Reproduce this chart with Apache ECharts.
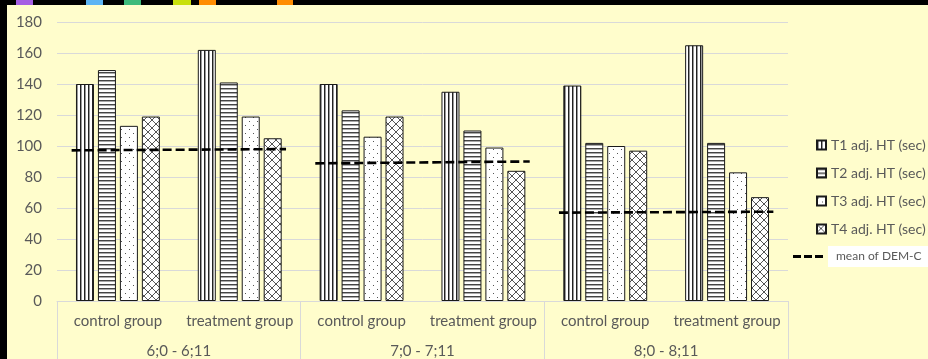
<!DOCTYPE html>
<html>
<head>
<meta charset="utf-8">
<script src="https://cdn.jsdelivr.net/npm/echarts@6/dist/echarts.min.js"></script>
<style>
  html, body { margin: 0; padding: 0; background: #000; }
  #chart { width: 928px; height: 359px; }
</style>
</head>
<body>
<div id="chart"></div>
<script>
// Sub-categories (first axis level) and age bands (second level)
const categories = ['control group', 'treatment group', 'control group', 'treatment group', 'control group', 'treatment group'];
const ageBands = ['6;0 - 6;11', '7;0 - 7;11', '8;0 - 8;11'];

// Adjusted hold times per trial (seconds)
const seriesNames = ['T1 adj. HT (sec)', 'T2 adj. HT (sec)', 'T3 adj. HT (sec)', 'T4 adj. HT (sec)'];
const t1 = [140, 162, 140, 135, 139, 165];
const t2 = [149, 141, 123, 110, 102, 102];
const t3 = [113, 119, 106, 99, 100, 83];
const t4 = [119, 105, 119, 84, 97, 67];

// Mean of DEM-C per age band (value at start and end of each segment)
const meanName = 'mean of DEM-C';
const meanStart = [97.2, 88.8, 57.0];
const meanEnd = [98.0, 90.0, 57.6];

const yTicks = { min: 0, max: 180, interval: 20 };

const FONT = 'Lato, "Open Sans", sans-serif';
const GREY = '#595959';

// Fill patterns for the bars
function makePattern(w, h, draw) {
  const c = document.createElement('canvas');
  c.width = w; c.height = h;
  const ctx = c.getContext('2d');
  ctx.fillStyle = '#fff';
  ctx.fillRect(0, 0, w, h);
  draw(ctx);
  return { image: c, repeat: 'repeat' };
}
const patVertical = makePattern(4, 4, ctx => {
  ctx.fillStyle = '#222'; ctx.fillRect(0, 0, 1, 4);
  ctx.fillStyle = '#999'; ctx.fillRect(1, 0, 1, 4);
});
const patHorizontal = makePattern(4, 4, ctx => {
  ctx.fillStyle = '#444'; ctx.fillRect(0, 0, 4, 1);
  ctx.fillStyle = '#aaa'; ctx.fillRect(0, 1, 4, 1);
});
const patDots = makePattern(8, 8, ctx => {
  ctx.fillStyle = '#555';
  ctx.fillRect(1, 1, 1, 1);
  ctx.fillRect(5, 5, 1, 1);
});
const patCross = makePattern(8, 8, ctx => {
  ctx.strokeStyle = '#555'; ctx.lineWidth = 1;
  ctx.beginPath();
  ctx.moveTo(0, 0); ctx.lineTo(8, 8);
  ctx.moveTo(8, 0); ctx.lineTo(0, 8);
  ctx.stroke();
});
const patterns = [patVertical, patHorizontal, patDots, patCross];
const values = [t1, t2, t3, t4];

const barSeries = seriesNames.map((name, i) => ({
  name,
  type: 'bar',
  xAxisIndex: 0,
  yAxisIndex: 0,
  barWidth: 18,
  barGap: '22%',
  itemStyle: { color: patterns[i], borderColor: '#1a1a1a', borderWidth: 1 },
  data: values[i],
  z: 2
}));

// Mean segments span each age band, inset slightly from its edges
const inset = 0.12;
const meanSeries = ageBands.map((band, g) => ({
  name: meanName,
  type: 'line',
  xAxisIndex: 2,
  yAxisIndex: 0,
  symbol: 'none',
  itemStyle: { color: '#000' },
  lineStyle: { color: '#000', width: 2.6, type: [9, 4] },
  data: [[g * 2 + inset, meanStart[g]], [g * 2 + 2 - inset, meanEnd[g]]],
  z: 5
}));

// Three short dashes for the legend key of the mean line
const dashIcon = 'path://M0,0h8v3h-8z M11,0h8v3h-8z M22,0h8v3h-8z';

const chart = echarts.init(document.getElementById('chart'));
chart.setOption({
  backgroundColor: '#000',
  animation: false,
  textStyle: { fontFamily: FONT },
  graphic: [
    { type: 'rect', z: -10, shape: { x: 7, y: 5, width: 921, height: 354 }, style: { fill: '#FFFDCC' } },
    { type: 'rect', z: -10, shape: { x: 16, y: 0, width: 17, height: 5 }, style: { fill: '#a55ee3' } },
    { type: 'rect', z: -10, shape: { x: 86, y: 0, width: 17, height: 5 }, style: { fill: '#5cb4f4' } },
    { type: 'rect', z: -10, shape: { x: 124, y: 0, width: 17, height: 5 }, style: { fill: '#3dba7a' } },
    { type: 'rect', z: -10, shape: { x: 173, y: 0, width: 18, height: 5 }, style: { fill: '#c8e00c' } },
    { type: 'rect', z: -10, shape: { x: 199, y: 0, width: 17, height: 5 }, style: { fill: '#ff8c00' } },
    { type: 'rect', z: -10, shape: { x: 277, y: 0, width: 16, height: 5 }, style: { fill: '#ff8c00' } }
  ],
  grid: { left: 57, right: 140, top: 22, bottom: 58, containLabel: false },
  legend: [
    {
      data: seriesNames,
      orient: 'vertical',
      left: 811,
      top: 133,
      padding: 5,
      itemWidth: 9,
      itemHeight: 9,
      itemGap: 14,
      itemTextGap: 4,
      icon: 'rect',
      selectedMode: false,
      textStyle: { fontSize: 14, color: GREY, fontFamily: FONT }
    },
    {
      data: [{ name: meanName, icon: dashIcon }],
      orient: 'vertical',
      left: 788,
      top: 241,
      padding: 5,
      itemWidth: 30,
      itemHeight: 3,
      itemGap: 0,
      itemTextGap: 0,
      selectedMode: false,
      itemStyle: { color: '#000' },
      textStyle: {
        fontSize: 12, color: GREY, fontFamily: FONT,
        backgroundColor: '#fff', padding: [5, 10, 4, 8]
      }
    }
  ],
  xAxis: [
    {
      type: 'category',
      data: categories,
      axisLine: { lineStyle: { color: '#d9d9d9', width: 1 } },
      axisTick: { show: false },
      axisLabel: { margin: 13, fontSize: 15, color: GREY, fontFamily: FONT, interval: 0 }
    },
    {
      type: 'category',
      data: ageBands,
      position: 'bottom',
      axisLine: { show: false },
      axisTick: { show: true, length: 58, interval: 0, lineStyle: { color: '#d9d9d9', width: 1 } },
      axisLabel: { margin: 43, fontSize: 15, color: GREY, fontFamily: FONT, interval: 0 }
    },
    { type: 'value', min: 0, max: 6, show: false }
  ],
  yAxis: {
    type: 'value',
    min: yTicks.min,
    max: yTicks.max,
    interval: yTicks.interval,
    axisLine: { show: false },
    axisTick: { show: false },
    splitLine: { lineStyle: { color: '#d9d9d9', width: 1 } },
    axisLabel: { margin: 15, fontSize: 15, color: GREY, fontFamily: FONT }
  },
  series: [...barSeries, ...meanSeries]
});
</script>
</body>
</html>
